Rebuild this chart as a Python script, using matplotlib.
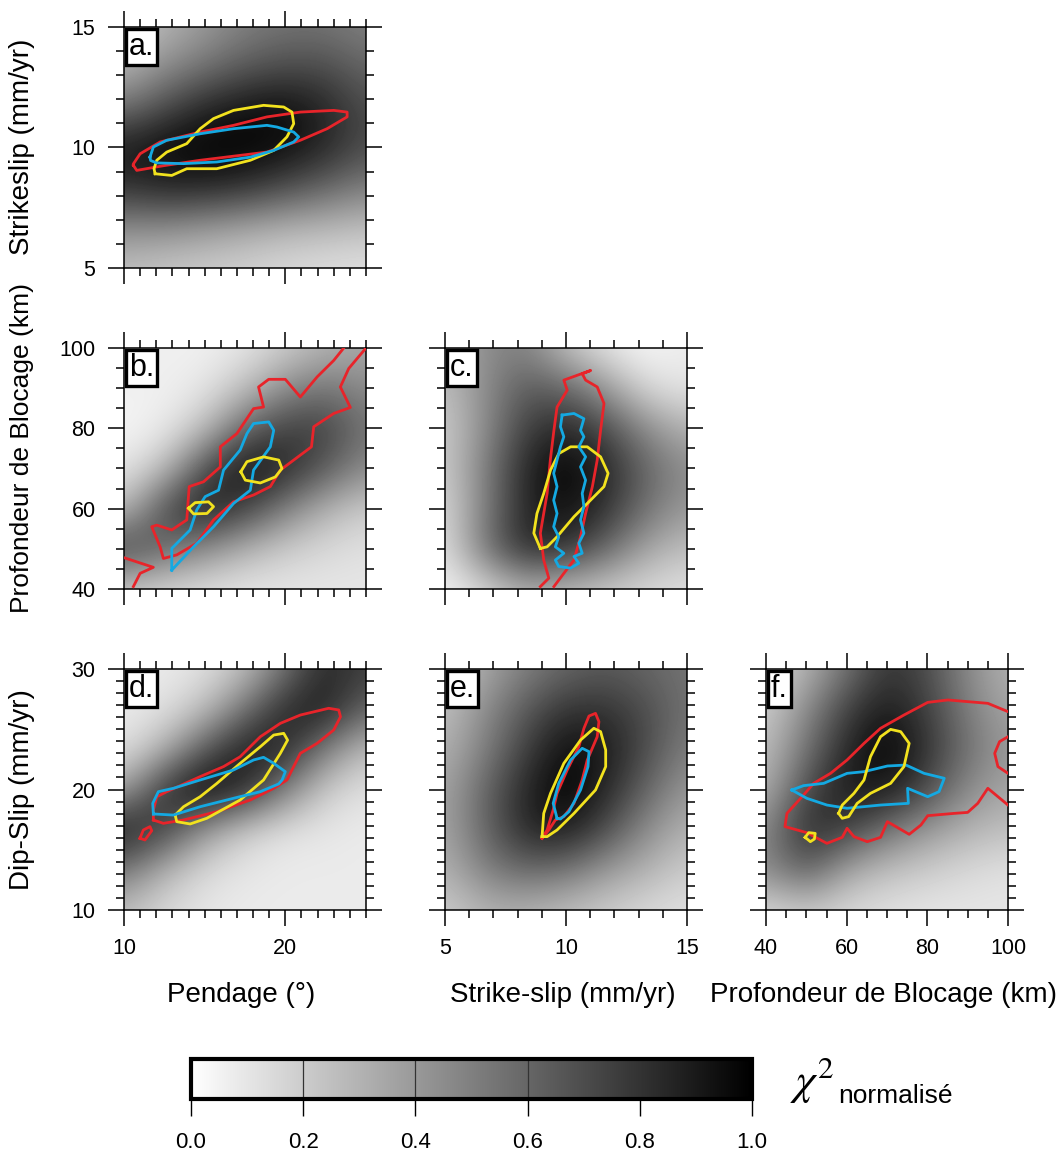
import numpy as np
import matplotlib
matplotlib.use('Agg')
import matplotlib.pyplot as plt
from matplotlib.ticker import MultipleLocator

plt.rcParams['font.family'] = ['Liberation Sans', 'DejaVu Sans']
plt.rcParams['mathtext.fontset'] = 'stix'

# ranges of the parameters
pendage_lim = (10, 25)
strike_lim = (5, 15)
blocage_lim = (40, 100)
dip_lim = (10, 30)

# normalised chi2 at grid nodes spanning each panel (rows: top -> bottom, cols: left -> right)
field_a = [
    [0.20, 0.30, 0.40, 0.50, 0.55, 0.55, 0.50],
    [0.30, 0.45, 0.55, 0.65, 0.70, 0.70, 0.60],
    [0.55, 0.70, 0.85, 0.92, 0.95, 0.85, 0.70],
    [0.90, 0.97, 1.00, 1.00, 0.95, 0.85, 0.70],
    [0.80, 0.85, 0.85, 0.80, 0.70, 0.60, 0.50],
    [0.45, 0.45, 0.40, 0.35, 0.30, 0.28, 0.25],
    [0.25, 0.22, 0.20, 0.18, 0.15, 0.13, 0.12],
]
field_b = [
    [0.08, 0.06, 0.06, 0.10, 0.20, 0.30, 0.35],
    [0.06, 0.06, 0.10, 0.25, 0.45, 0.55, 0.45],
    [0.04, 0.08, 0.25, 0.60, 0.75, 0.75, 0.55],
    [0.10, 0.25, 0.70, 0.95, 0.85, 0.65, 0.45],
    [0.25, 0.70, 0.90, 0.75, 0.50, 0.30, 0.20],
    [0.75, 0.60, 0.45, 0.30, 0.20, 0.15, 0.12],
    [0.20, 0.15, 0.12, 0.10, 0.10, 0.10, 0.10],
]
field_c = [
    [0.30, 0.45, 0.50, 0.25, 0.10, 0.03, 0.08],
    [0.25, 0.45, 0.65, 0.60, 0.40, 0.15, 0.10],
    [0.20, 0.45, 0.75, 0.85, 0.70, 0.45, 0.30],
    [0.20, 0.50, 0.85, 1.00, 0.85, 0.60, 0.45],
    [0.15, 0.50, 0.85, 0.95, 0.80, 0.55, 0.40],
    [0.12, 0.55, 0.85, 0.80, 0.60, 0.35, 0.25],
    [0.05, 0.15, 0.30, 0.25, 0.20, 0.15, 0.12],
]
field_d = [
    [0.08, 0.08, 0.12, 0.25, 0.55, 0.85, 0.75],
    [0.08, 0.12, 0.25, 0.55, 0.85, 0.90, 0.60],
    [0.12, 0.30, 0.65, 0.90, 0.85, 0.50, 0.25],
    [0.35, 0.80, 1.00, 0.85, 0.50, 0.20, 0.12],
    [0.90, 0.75, 0.40, 0.20, 0.12, 0.10, 0.08],
    [0.55, 0.30, 0.15, 0.10, 0.08, 0.08, 0.08],
    [0.25, 0.15, 0.10, 0.08, 0.08, 0.08, 0.08],
]
field_e = [
    [0.20, 0.35, 0.50, 0.60, 0.65, 0.60, 0.55],
    [0.25, 0.45, 0.65, 0.80, 0.80, 0.70, 0.55],
    [0.30, 0.50, 0.75, 0.95, 0.90, 0.70, 0.50],
    [0.35, 0.60, 0.85, 1.00, 0.85, 0.60, 0.40],
    [0.35, 0.60, 0.85, 0.90, 0.70, 0.45, 0.30],
    [0.30, 0.50, 0.60, 0.55, 0.40, 0.30, 0.20],
    [0.20, 0.30, 0.30, 0.25, 0.20, 0.15, 0.12],
]
field_f = [
    [0.15, 0.30, 0.55, 0.80, 0.70, 0.45, 0.30],
    [0.20, 0.45, 0.75, 0.90, 0.75, 0.50, 0.35],
    [0.25, 0.55, 0.85, 1.00, 0.80, 0.55, 0.40],
    [0.30, 0.70, 0.90, 0.90, 0.70, 0.45, 0.35],
    [0.45, 0.85, 0.75, 0.55, 0.40, 0.30, 0.25],
    [0.45, 0.65, 0.35, 0.25, 0.20, 0.15, 0.12],
    [0.15, 0.20, 0.15, 0.12, 0.10, 0.10, 0.10],
]

# confidence contours (x, y)
red_a = [(10.58, 9.26), (10.79, 9.05), (12.5, 9.25), (14.72, 9.47), (18.86, 9.81), (20.93, 10.30),
         (22.59, 10.78), (23.83, 11.27), (23.83, 11.47), (23.0, 11.54), (20.93, 11.47), (18.86, 11.27),
         (16.79, 10.92), (14.72, 10.64), (12.24, 10.23), (11.0, 9.74), (10.58, 9.32)]
yellow_a = [(11.93, 8.91), (12.96, 8.84), (13.89, 9.12), (15.75, 9.12), (17.83, 9.47), (19.28, 9.88),
            (20.1, 10.44), (20.52, 10.99), (20.41, 11.47), (19.9, 11.68), (18.65, 11.75), (16.79, 11.54),
            (15.55, 11.2), (14.72, 10.78), (13.89, 10.16), (12.65, 9.81), (12.03, 9.47), (11.86, 9.12)]
blue_a = [(11.61, 9.6), (11.82, 10.02), (12.65, 10.3), (14.72, 10.57), (16.79, 10.78), (18.86, 10.92),
          (19.48, 10.85), (20.52, 10.64), (20.83, 10.44), (20.52, 10.23), (19.28, 9.88), (17.83, 9.6),
          (15.76, 9.4), (13.69, 9.33), (12.03, 9.36), (11.65, 9.46)]

red_b1 = [(10.0, 47.8), (11.82, 45.4), (11.0, 43.9), (10.58, 40.6)]
red_b2 = [(23.62, 100), (23.0, 96.9), (21.97, 92.8), (20.93, 87.8), (20.0, 92.2), (18.97, 92.2),
          (18.34, 90.3), (18.65, 85.3), (18.03, 84.9), (17.0, 78.7), (15.97, 75.4), (15.97, 70.4),
          (14.93, 66.7), (14.04, 65.5), (13.89, 57.2), (12.96, 54.7), (12.03, 55.9), (11.72, 55.5),
          (12.24, 50.5), (12.44, 47.6), (13.27, 48.5), (14.51, 51.4), (15.55, 57.2), (16.79, 61.7),
          (18.03, 63.4), (19.07, 65.5), (19.69, 69.6), (20.52, 72.1), (21.62, 75.4), (21.76, 80.4),
          (23.0, 83.7), (24.03, 85.2), (23.41, 90.3), (23.93, 94.9), (25.0, 100)]
blue_b = [(12.96, 44.7), (12.96, 50.1), (14.1, 54.7), (14.51, 59.7), (15.03, 63.0), (15.86, 64.6),
          (16.17, 69.6), (17.2, 74.6), (17.62, 78.7), (18.03, 81.2), (18.97, 81.6), (19.28, 79.5),
          (19.07, 75.4), (18.03, 69.6), (17.83, 64.6), (16.79, 61.3), (15.55, 55.5), (14.31, 50.5)]
yellow_b1 = [(17.24, 69.2), (17.62, 71.7), (18.65, 72.9), (19.59, 72.1), (19.79, 70.0), (19.38, 67.9),
             (18.45, 66.4), (17.52, 67.1)]
yellow_b2 = [(14.0, 60.1), (14.41, 61.5), (15.24, 61.7), (15.55, 60.5), (15.14, 58.8), (14.31, 58.7)]

red_c = [(8.94, 40.6), (9.29, 42.7), (9.08, 47.2), (8.94, 53.9), (9.22, 63.8), (9.35, 72.0),
         (9.5, 79.5), (9.63, 85.3), (10.05, 89.5), (9.91, 92.0), (10.46, 93.2), (11.02, 94.4),
         (10.67, 93.6), (10.81, 92.0), (11.29, 90.3), (11.57, 86.2), (11.43, 79.5), (11.29, 72.1),
         (11.09, 65.5), (10.81, 58.8), (10.6, 53.0), (10.33, 47.2), (9.91, 43.9), (9.5, 40.6)]
blue_c = [(9.84, 83.3), (10.33, 83.7), (10.74, 82.4), (10.6, 79.5), (10.74, 77.9), (10.53, 75.4),
          (10.81, 72.9), (10.6, 70.4), (10.81, 67.1), (10.67, 63.8), (10.74, 60.5), (10.6, 57.2),
          (10.74, 53.9), (10.53, 51.4), (10.67, 48.9), (10.33, 48.1), (10.53, 46.4), (10.19, 45.2),
          (9.7, 45.6), (9.56, 47.2), (9.91, 48.9), (9.56, 50.5), (9.7, 53.0), (9.49, 55.5),
          (9.63, 58.8), (9.49, 62.1), (9.63, 65.5), (9.49, 68.8), (9.63, 72.1), (9.77, 75.4),
          (9.91, 77.9), (9.77, 80.4)]
yellow_c = [(8.94, 50.1), (8.67, 53.9), (8.8, 58.8), (9.08, 63.8), (9.36, 69.6), (9.7, 73.7),
            (10.19, 75.4), (10.88, 75.4), (11.43, 72.9), (11.74, 68.8), (11.57, 65.5), (10.88, 61.3),
            (10.33, 58.0), (9.63, 53.0), (9.22, 50.5)]

red_d1 = [(11.82, 17.47), (12.44, 17.19), (13.69, 17.47), (15.76, 18.16), (17.83, 19.13), (19.28, 20.10),
          (20.1, 20.79), (20.93, 23.0), (21.97, 23.83), (23.0, 24.94), (23.42, 26.04), (23.31, 26.6),
          (22.69, 26.74), (20.93, 26.18), (19.69, 25.49), (18.45, 24.38), (17.2, 22.72), (16.17, 21.9),
          (14.72, 21.07), (12.65, 19.82), (12.03, 19.4), (11.82, 18.3)]
red_d2 = [(10.99, 15.95), (11.2, 16.64), (11.61, 16.92), (11.72, 16.58), (11.3, 15.81)]
yellow_d = [(13.17, 17.88), (13.27, 17.33), (14.1, 17.14), (15.13, 17.61), (17.2, 19.13), (18.65, 20.79),
            (19.69, 23.0), (20.14, 24.1), (19.9, 24.66), (19.28, 24.52), (18.45, 23.55), (17.2, 22.17),
            (15.76, 20.51), (14.72, 19.4), (13.69, 18.57)]
blue_d = [(11.82, 17.97), (11.78, 18.85), (12.13, 19.82), (13.06, 20.1), (14.72, 20.79), (16.79, 21.62),
          (18.03, 22.45), (18.65, 22.67), (19.28, 22.17), (20.0, 21.48), (19.8, 20.79), (19.59, 20.46),
          (18.45, 19.82), (16.79, 19.27), (14.72, 18.57), (13.06, 17.88)]

red_e = [(9.01, 15.95), (9.22, 16.64), (9.47, 18.3), (9.63, 19.68), (10.05, 21.62), (10.53, 23.55),
         (10.74, 25.07), (10.95, 26.1), (11.22, 26.32), (11.36, 25.63), (11.29, 24.38), (10.88, 22.45),
         (10.67, 20.79), (10.33, 18.85), (9.91, 17.75), (9.56, 17.47), (9.29, 16.64)]
yellow_e = [(9.01, 16.09), (9.08, 18.02), (9.36, 19.68), (9.91, 22.17), (10.6, 24.1), (11.15, 25.08),
            (11.43, 24.8), (11.64, 23.28), (11.64, 21.9), (11.22, 19.96), (10.33, 18.02), (9.63, 16.64),
            (9.22, 16.09)]
blue_e = [(9.63, 17.61), (9.47, 18.85), (9.7, 20.51), (10.19, 22.45), (10.67, 23.42), (10.95, 23.14),
          (10.91, 21.9), (10.6, 19.96), (10.12, 18.16), (9.77, 17.55)]

red_f1 = [(100, 26.46), (95.0, 27.15), (85.1, 27.43), (80.1, 27.23), (74.2, 26.18), (68.4, 25.08),
          (64.3, 23.83), (60.1, 22.45), (56.0, 21.34), (51.8, 20.51), (49.3, 19.54), (45.2, 18.02),
          (44.7, 16.92), (50.1, 16.42), (55.1, 15.53), (58.9, 16.03), (60.1, 16.78), (61.8, 16.09),
          (65.1, 15.67), (68.4, 16.03), (70.1, 17.33), (75.5, 16.28), (78.4, 17.05), (80.1, 17.83),
          (86.7, 18.02), (90.0, 18.1), (92.5, 18.85), (95.0, 20.1), (100, 18.71)]
red_f2 = [(100, 24.38), (97.9, 23.97), (96.7, 23.0), (97.5, 21.9), (100, 21.34)]
yellow_f1 = [(58.0, 18.02), (58.9, 18.71), (61.8, 19.68), (64.3, 20.79), (65.9, 22.72), (68.4, 24.38),
             (70.9, 24.99), (73.4, 24.8), (75.5, 23.83), (74.2, 21.9), (70.9, 20.51), (65.9, 19.68),
             (62.6, 18.85), (60.5, 17.75), (58.9, 17.61)]
yellow_f2 = [(49.7, 16.03), (50.6, 16.42), (52.2, 16.36), (52.0, 15.89), (51.0, 15.67)]
blue_f = [(46.4, 19.96), (49.3, 20.32), (54.3, 20.51), (60.1, 21.34), (64.3, 21.48), (70.1, 21.95),
          (74.7, 22.03), (79.2, 21.34), (84.2, 20.93), (82.9, 19.82), (80.1, 19.4), (75.1, 20.1),
          (75.3, 18.85), (68.4, 18.71), (60.1, 18.44), (55.1, 18.71), (50.1, 19.27)]

cbar_ticks = [0.0, 0.2, 0.4, 0.6, 0.8, 1.0]

RED = '#e8242a'
YELLOW = '#f2e21e'
BLUE = '#14a9e2'

W, H = 1063, 1151
fig = plt.figure(figsize=(W / 100, H / 100), dpi=100)


def add_panel(left, top, xlim, ylim, field, letter, xmaj, xmin, ymaj, ymin, xlab=True, ylab=True):
    ax = fig.add_axes([left / W, 1 - (top + 241) / H, 242 / W, 241 / H])
    z = np.array(field)
    # grid values sit on nodes, so widen the image by half a cell
    dx = (xlim[1] - xlim[0]) / (z.shape[1] - 1)
    dy = (ylim[1] - ylim[0]) / (z.shape[0] - 1)
    ax.imshow(z, cmap='gray_r', vmin=0, vmax=1,
              extent=[xlim[0] - dx / 2, xlim[1] + dx / 2, ylim[0] - dy / 2, ylim[1] + dy / 2],
              aspect='auto', interpolation='bicubic', origin='upper')
    ax.set_xlim(xlim)
    ax.set_ylim(ylim)
    ax.xaxis.set_major_locator(MultipleLocator(xmaj))
    ax.xaxis.set_minor_locator(MultipleLocator(xmin))
    ax.yaxis.set_major_locator(MultipleLocator(ymaj))
    ax.yaxis.set_minor_locator(MultipleLocator(ymin))
    ax.tick_params(which='both', direction='out', top=True, right=True, width=1.1,
                   labelsize=15.5, labelbottom=xlab, labelleft=ylab, pad=9)
    ax.tick_params(which='major', length=11.5)
    ax.tick_params(which='minor', length=5.5)
    for s in ax.spines.values():
        s.set_linewidth(1.1)
    ax.annotate(letter + '.', xy=(0, 1), xycoords='axes fraction', xytext=(3.5, -3.5),
                textcoords='offset points', ha='left', va='top', fontsize=22,
                bbox=dict(boxstyle='square,pad=0.1', fc='white', ec='black', lw=2.4), zorder=5)
    return ax


def line(ax, pts, color, closed=True):
    p = list(pts) + ([pts[0]] if closed else [])
    xs = [q[0] for q in p]
    ys = [q[1] for q in p]
    ax.plot(xs, ys, color=color, lw=2.0, solid_joinstyle='round', zorder=3)


ax_a = add_panel(124, 27, pendage_lim, strike_lim, field_a, 'a', 10, 1, 5, 1, xlab=False)
line(ax_a, red_a, RED)
line(ax_a, yellow_a, YELLOW)
line(ax_a, blue_a, BLUE)

ax_b = add_panel(124, 348, pendage_lim, blocage_lim, field_b, 'b', 10, 1, 20, 5, xlab=False)
line(ax_b, red_b1, RED, closed=False)
line(ax_b, red_b2, RED, closed=False)
line(ax_b, blue_b, BLUE)
line(ax_b, yellow_b1, YELLOW)
line(ax_b, yellow_b2, YELLOW)

ax_c = add_panel(445, 348, strike_lim, blocage_lim, field_c, 'c', 5, 1, 20, 5, xlab=False, ylab=False)
line(ax_c, red_c, RED, closed=False)
line(ax_c, yellow_c, YELLOW)
line(ax_c, blue_c, BLUE)

ax_d = add_panel(124, 669, pendage_lim, dip_lim, field_d, 'd', 10, 1, 10, 1)
line(ax_d, red_d1, RED)
line(ax_d, red_d2, RED)
line(ax_d, yellow_d, YELLOW)
line(ax_d, blue_d, BLUE)

ax_e = add_panel(445, 669, strike_lim, dip_lim, field_e, 'e', 5, 1, 10, 1, ylab=False)
line(ax_e, red_e, RED)
line(ax_e, yellow_e, YELLOW)
line(ax_e, blue_e, BLUE)

ax_f = add_panel(766, 669, blocage_lim, dip_lim, field_f, 'f', 20, 5, 10, 1, ylab=False)
line(ax_f, red_f1, RED, closed=False)
line(ax_f, red_f2, RED, closed=False)
line(ax_f, blue_f, BLUE)
line(ax_f, yellow_f1, YELLOW)
line(ax_f, yellow_f2, YELLOW)

# axis titles
fs = 20
fig.text(22 / W, 1 - 147 / H, 'Strikeslip (mm/yr)', rotation=90, ha='center', va='center', fontsize=fs)
fig.text(22 / W, 1 - 448 / H, 'Profondeur de Blocage (km)', rotation=90, ha='center', va='center', fontsize=19)
fig.text(22 / W, 1 - 790 / H, 'Dip-Slip (mm/yr)', rotation=90, ha='center', va='center', fontsize=fs)
fig.text(241 / W, 1 - 995 / H, 'Pendage (°)', ha='center', va='center', fontsize=fs)
fig.text(563 / W, 1 - 995 / H, 'Strike-slip (mm/yr)', ha='center', va='center', fontsize=fs)
fig.text(884 / W, 1 - 995 / H, 'Profondeur de Blocage (km)', ha='center', va='center', fontsize=fs)

# colour bar
cax = fig.add_axes([191 / W, 1 - 1099 / H, 561 / W, 40 / H])
sm = matplotlib.cm.ScalarMappable(norm=matplotlib.colors.Normalize(0, 1), cmap='gray_r')
cb = fig.colorbar(sm, cax=cax, orientation='horizontal', ticks=cbar_ticks)
cb.outline.set_linewidth(3)
for v in cbar_ticks[1:-1]:
    cax.axvline(v, color='#333333', lw=0.9)
cax.tick_params(length=12, width=1, labelsize=16, pad=12)
cax.set_xticklabels(['%.1f' % v for v in cbar_ticks])
fig.text(790 / W, 1 - 1080 / H, r'$\chi^{2}$', fontsize=32, ha='left', va='center')
fig.text(838 / W, 1 - 1103 / H, 'normalisé', fontsize=19, ha='left', va='baseline')

fig.savefig('out.png', dpi=100)
